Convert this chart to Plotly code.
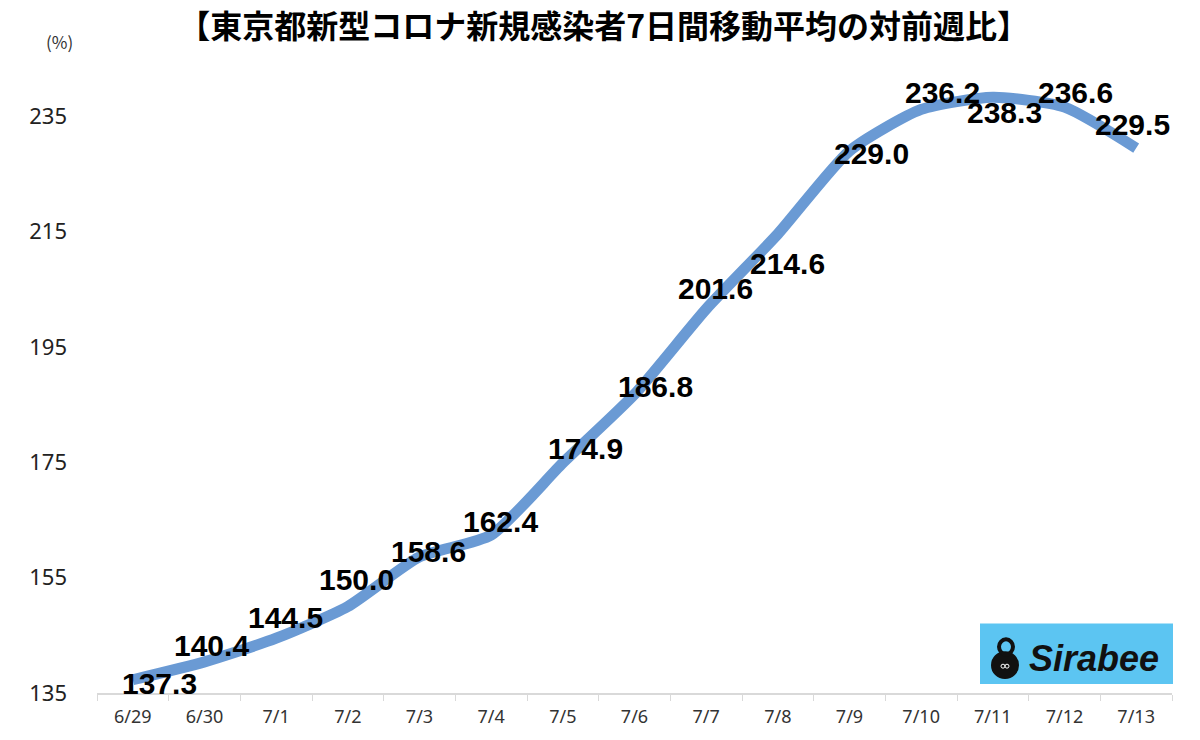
import plotly.graph_objects as go

dates = ["6/29", "6/30", "7/1", "7/2", "7/3", "7/4", "7/5", "7/6", "7/7",
         "7/8", "7/9", "7/10", "7/11", "7/12", "7/13"]
values = [137.3, 140.4, 144.5, 150.0, 158.6, 162.4, 174.9, 186.8, 201.6,
          214.6, 229.0, 236.2, 238.3, 236.6, 229.5]
y_ticks = [135, 155, 175, 195, 215, 235]
title_text = "【東京都新型コロナ新規感染者7日間移動平均の対前週比】"

# label offsets (px) relative to each point
label_dx = [27, 7, 9, 9, 9, 9, 23, 21, 9, 10, 22, 21, 12, 11, -4]
label_dy = [-4, 16, 21, 27, 5, 14, 14, 8, 20, -29, -3, 17, -15, 15, 24]

L, R, T, B = 97, 28, 76, 43
PW, PH = 1200 - L - R, 740 - T - B


def px(x):
    return (x - L) / PW


def py(y):
    return (740 - B - y) / PH


fig = go.Figure()
fig.add_trace(go.Scatter(
    x=dates, y=values, mode="lines",
    line=dict(color="#6a9ad4", width=11, shape="spline", smoothing=0.6),
    hoverinfo="skip", showlegend=False,
))

for d, v, dx, dy in zip(dates, values, label_dx, label_dy):
    fig.add_annotation(
        x=d, y=v, xref="x", yref="y", text=f"<b>{v:.1f}</b>", showarrow=False,
        xshift=dx, yshift=dy, xanchor="center", yanchor="middle",
        font=dict(family="Liberation Sans, Arial, sans-serif", size=30, color="#000000"),
    )

fig.update_layout(
    width=1200, height=740,
    margin=dict(l=L, r=R, t=T, b=B),
    paper_bgcolor="white", plot_bgcolor="white",
    font=dict(family="Noto Sans CJK JP, Noto Sans, sans-serif"),
    title=dict(
        text=f"<b>{title_text}</b>", x=0.503, xanchor="center", y=1 - 27 / 740, yanchor="middle",
        font=dict(family="Noto Sans CJK JP", size=32, color="#000000"),
    ),
    xaxis=dict(
        type="category", range=[-0.5, len(dates) - 0.5],
        showline=True, linecolor="#d9d9d9", linewidth=2,
        ticks="outside", tickson="boundaries", ticklen=6, tickcolor="#d9d9d9",
        showgrid=False, zeroline=False,
        tickfont=dict(family="Noto Sans, sans-serif", size=18, color="#333333"),
        ticklabelstandoff=6,
    ),
    yaxis=dict(
        range=[135, 242], tickvals=y_ticks, ticktext=[str(t) for t in y_ticks],
        showgrid=False, zeroline=False, showline=False,
        tickfont=dict(family="Noto Sans, sans-serif", size=22, color="#222222"),
        ticklabelstandoff=29,
    ),
)

# (%) unit label
fig.add_annotation(
    x=px(59), y=py(41), xref="paper", yref="paper", text="(%)", showarrow=False,
    xanchor="center", yanchor="middle",
    font=dict(family="Noto Sans CJK JP", size=17, color="#333333"),
)

# Logo box
fig.add_shape(type="rect", xref="paper", yref="paper",
              x0=px(980), x1=px(1173), y0=py(688), y1=py(627),
              fillcolor="#5cc5f2", line=dict(width=0), layer="above")
fig.add_shape(type="circle", xref="paper", yref="paper",
              x0=px(991), x1=px(1019), y0=py(683), y1=py(655),
              fillcolor="#111111", line=dict(width=0), layer="above")
fig.add_shape(type="circle", xref="paper", yref="paper",
              x0=px(999), x1=px(1013), y0=py(658), y1=py(643),
              fillcolor="rgba(0,0,0,0)", line=dict(width=4, color="#111111"), layer="above")
fig.add_shape(type="circle", xref="paper", yref="paper",
              x0=px(1001), x1=px(1005), y0=py(672), y1=py(668),
              fillcolor="rgba(0,0,0,0)", line=dict(width=1, color="#ffffff"), layer="above")
fig.add_shape(type="circle", xref="paper", yref="paper",
              x0=px(1005), x1=px(1009), y0=py(672), y1=py(668),
              fillcolor="rgba(0,0,0,0)", line=dict(width=1, color="#ffffff"), layer="above")
fig.add_annotation(
    x=px(1094), y=py(662), xref="paper", yref="paper",
    text="<b><i>Sirabee</i></b>", showarrow=False, xanchor="center", yanchor="middle",
    font=dict(family="Liberation Sans, Arial, sans-serif", size=36, color="#111111"),
)

fig.write_html("out.html")
